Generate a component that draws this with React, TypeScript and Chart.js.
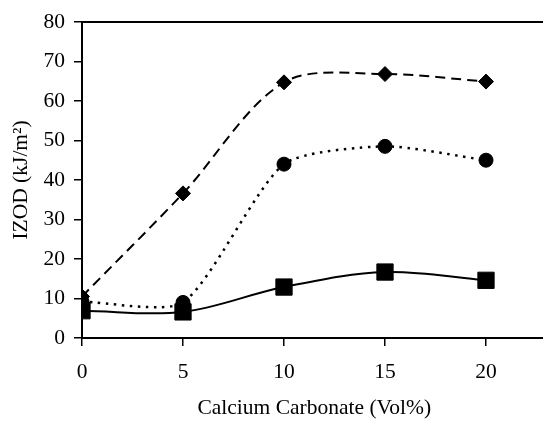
import React, { useEffect, useRef } from "react";
import { Chart, registerables } from "chart.js";

Chart.register(...registerables);

const xValues = [0, 5, 10, 15, 20];
const diamondSeries = [10.5, 36.6, 64.7, 66.8, 64.9];
const circleSeries = [9.2, 9.0, 44.0, 48.5, 45.0];
const squareSeries = [6.9, 6.6, 12.9, 16.7, 14.6];
const xTickValues = [0, 5, 10, 15, 20];
const xTitle = "Calcium Carbonate (Vol%)";
const yTitle = "IZOD (kJ/m\u00B2)";

const FONT = "'Liberation Serif', 'Times New Roman', serif";
const FS = 21.5;

const topBorder = {
  id: "topBorder",
  afterDatasetsDraw(chart: any) {
    const { ctx, chartArea } = chart;
    ctx.save();
    ctx.strokeStyle = "#000";
    ctx.lineWidth = 2;
    ctx.beginPath();
    ctx.moveTo(chartArea.left - 1, chartArea.top);
    ctx.lineTo(chartArea.right, chartArea.top);
    ctx.stroke();
    ctx.restore();
  },
};

export default function App() {
  const ref = useRef<HTMLCanvasElement | null>(null);

  useEffect(() => {
    if (!ref.current) return;
    const toPts = (ys: number[]) => xValues.map((x, i) => ({ x, y: ys[i] }));
    const chart = new Chart(ref.current, {
      type: "line",
      data: {
        datasets: [
          {
            label: "A",
            data: toPts(diamondSeries),
            borderColor: "#000",
            backgroundColor: "#000",
            borderWidth: 2,
            borderDash: [10, 6],
            tension: 0.32,
            pointStyle: "rectRot",
            pointRadius: 7.5,
            pointBorderWidth: 1,
          },
          {
            label: "B",
            data: toPts(circleSeries),
            borderColor: "#000",
            backgroundColor: "#000",
            borderWidth: 2.5,
            borderDash: [2.5, 5.5],
            tension: 0.22,
            pointStyle: "circle",
            pointRadius: 7,
            pointBorderWidth: 1,
          },
          {
            label: "C",
            data: toPts(squareSeries),
            borderColor: "#000",
            backgroundColor: "#000",
            borderWidth: 2,
            tension: 0.35,
            pointStyle: "rect",
            pointRadius: 11.5,
            pointBorderWidth: 1,
          },
        ],
      },
      options: {
        responsive: false,
        animation: false,
        layout: { padding: { top: 15, right: 13.4, left: 0, bottom: 0 } },
        plugins: { legend: { display: false }, tooltip: { enabled: false } },
        scales: {
          x: {
            type: "linear",
            min: 0,
            max: 23,
            afterBuildTicks: (scale: any) => {
              scale.ticks = xTickValues.map((v) => ({ value: v }));
            },
            afterFit: (scale: any) => {
              scale.height = 85;
            },
            grid: {
              drawOnChartArea: false,
              drawTicks: true,
              tickLength: 8,
              color: "#000",
              lineWidth: 1.5,
            },
            border: { display: true, color: "#000", width: 2 },
            ticks: {
              color: "#000",
              font: { family: FONT, size: FS },
              padding: 13,
              maxRotation: 0,
            },
            title: {
              display: true,
              text: xTitle,
              color: "#000",
              font: { family: FONT, size: FS },
              padding: { top: 0, bottom: 2 },
            },
          },
          y: {
            type: "linear",
            min: 0,
            max: 80,
            afterFit: (scale: any) => {
              scale.width = 82;
            },
            grid: {
              drawOnChartArea: false,
              drawTicks: true,
              tickLength: 8,
              color: "#000",
              lineWidth: 1.5,
            },
            border: { display: true, color: "#000", width: 2 },
            ticks: {
              stepSize: 10,
              color: "#000",
              font: { family: FONT, size: FS },
              padding: 9,
            },
            title: {
              display: true,
              text: yTitle,
              color: "#000",
              font: { family: FONT, size: FS },
              padding: { top: 8, bottom: 0 },
            },
          },
        },
      },
      plugins: [topBorder],
    });
    return () => chart.destroy();
  }, []);

  return (
    <div
      style={{
        position: "fixed",
        left: 0,
        top: 0,
        width: 543,
        height: 423,
        overflow: "hidden",
        background: "#fff",
      }}
    >
      <canvas ref={ref} width={560} height={423} style={{ display: "block" }} />
    </div>
  );
}
